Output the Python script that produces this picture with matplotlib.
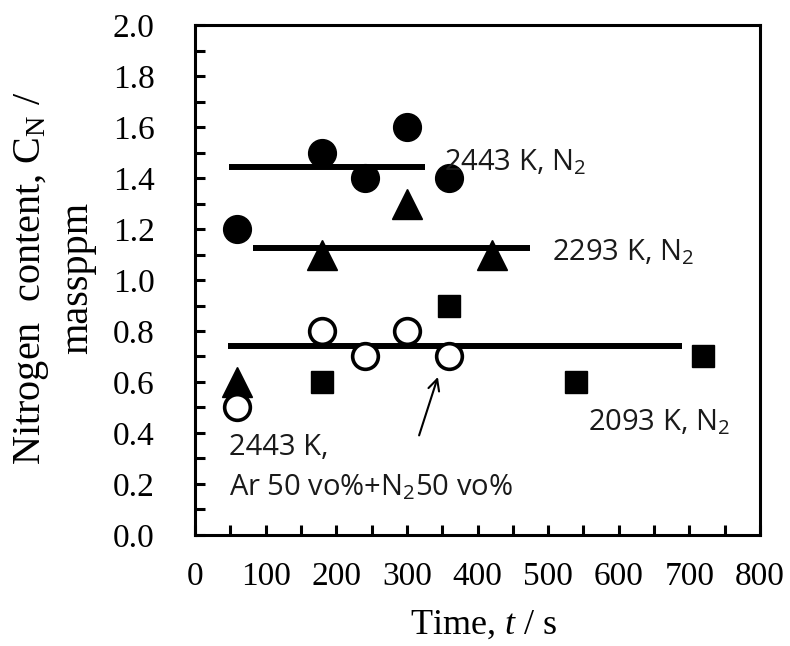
import matplotlib.pyplot as plt
import numpy as np

plt.rcParams['font.family'] = 'Liberation Serif'
plt.rcParams['mathtext.fontset'] = 'custom'
plt.rcParams['mathtext.rm'] = 'Liberation Serif'
plt.rcParams['mathtext.it'] = 'Liberation Serif:italic'

# 2443 K, N2 (filled circles)
t_2443 = [60, 180, 240, 300, 360]
c_2443 = [1.2, 1.5, 1.4, 1.6, 1.4]
# 2293 K, N2 (filled triangles)
t_2293 = [60, 180, 300, 420]
c_2293 = [0.6, 1.1, 1.3, 1.1]
# 2443 K, Ar 50% + N2 50% (open circles)
t_ar = [60, 180, 240, 300, 360]
c_ar = [0.5, 0.8, 0.7, 0.8, 0.7]
# 2093 K, N2 (squares)
t_2093 = [180, 360, 540, 720]
c_2093 = [0.6, 0.9, 0.6, 0.7]

# mean lines: (start, end, level)
mean_2443 = (48, 326, 1.445)
mean_2293 = (82, 474, 1.125)
mean_2093 = (47, 689, 0.74)

fig = plt.figure(figsize=(7.9, 6.46), dpi=100)
ax = fig.add_axes([0.247, 0.172, 0.715, 0.789])

for x0, x1, y in [mean_2443, mean_2293, mean_2093]:
    ax.plot([x0, x1], [y, y], color='black', lw=4.3, solid_capstyle='butt', zorder=2)

ax.plot(t_2443, c_2443, 'o', color='black', ms=20, zorder=3)
ax.plot(t_2293, c_2293, '^', color='black', ms=22, zorder=3)
ax.plot(t_ar, c_ar, 'o', mfc='white', mec='black', mew=2.6, ms=18.5, zorder=3)
ax.plot(t_2093, c_2093, 's', color='black', ms=16, zorder=3)

tf = dict(family='Open Sans', fontsize=21, color='#1a1a1a', va='baseline', ha='left')
ax.text(352, 1.431, r'2443 K, $\mathregular{N_2}$', **tf)
ax.text(506, 1.078, r'2293 K, $\mathregular{N_2}$', **tf)
ax.text(557, 0.412, r'2093 K, $\mathregular{N_2}$', **tf)
ax.text(48, 0.314, '2443 K,', **tf)
ax.text(48, 0.157, r'Ar 50 vo%+$\mathregular{N_2}$50 vo%', **tf)
ax.annotate('', xy=(345, 0.63), xytext=(316, 0.38),
            arrowprops=dict(arrowstyle='->', color='black', lw=1.5, mutation_scale=20))

ax.set_xlim(0, 800)
ax.set_ylim(0, 2.0)
ax.set_xticks(np.arange(0, 801, 100))
ax.set_xticks(np.arange(0, 801, 50), minor=True)
ax.set_yticks(np.arange(0, 2.01, 0.2))
ax.set_yticks(np.arange(0, 2.01, 0.1), minor=True)
ax.set_yticklabels([f'{v:.1f}' for v in np.arange(0, 2.01, 0.2)])
ax.tick_params(which='both', direction='in', length=7, width=2.2, labelsize=24)
ax.tick_params(axis='x', pad=19)
ax.tick_params(axis='y', pad=29)
for s in ax.spines.values():
    s.set_linewidth(2.2)

ax.set_xlabel(r'Time, $t$ / s', fontsize=26)
ax.xaxis.set_label_coords(0.511, -0.145)
ax.set_ylabel('Nitrogen  content, C$_\\mathregular{N}$ /\nmassppm', fontsize=29,
              linespacing=1.3)
ax.yaxis.set_label_coords(-0.175, 0.504)

fig.savefig('out.png', dpi=100)
